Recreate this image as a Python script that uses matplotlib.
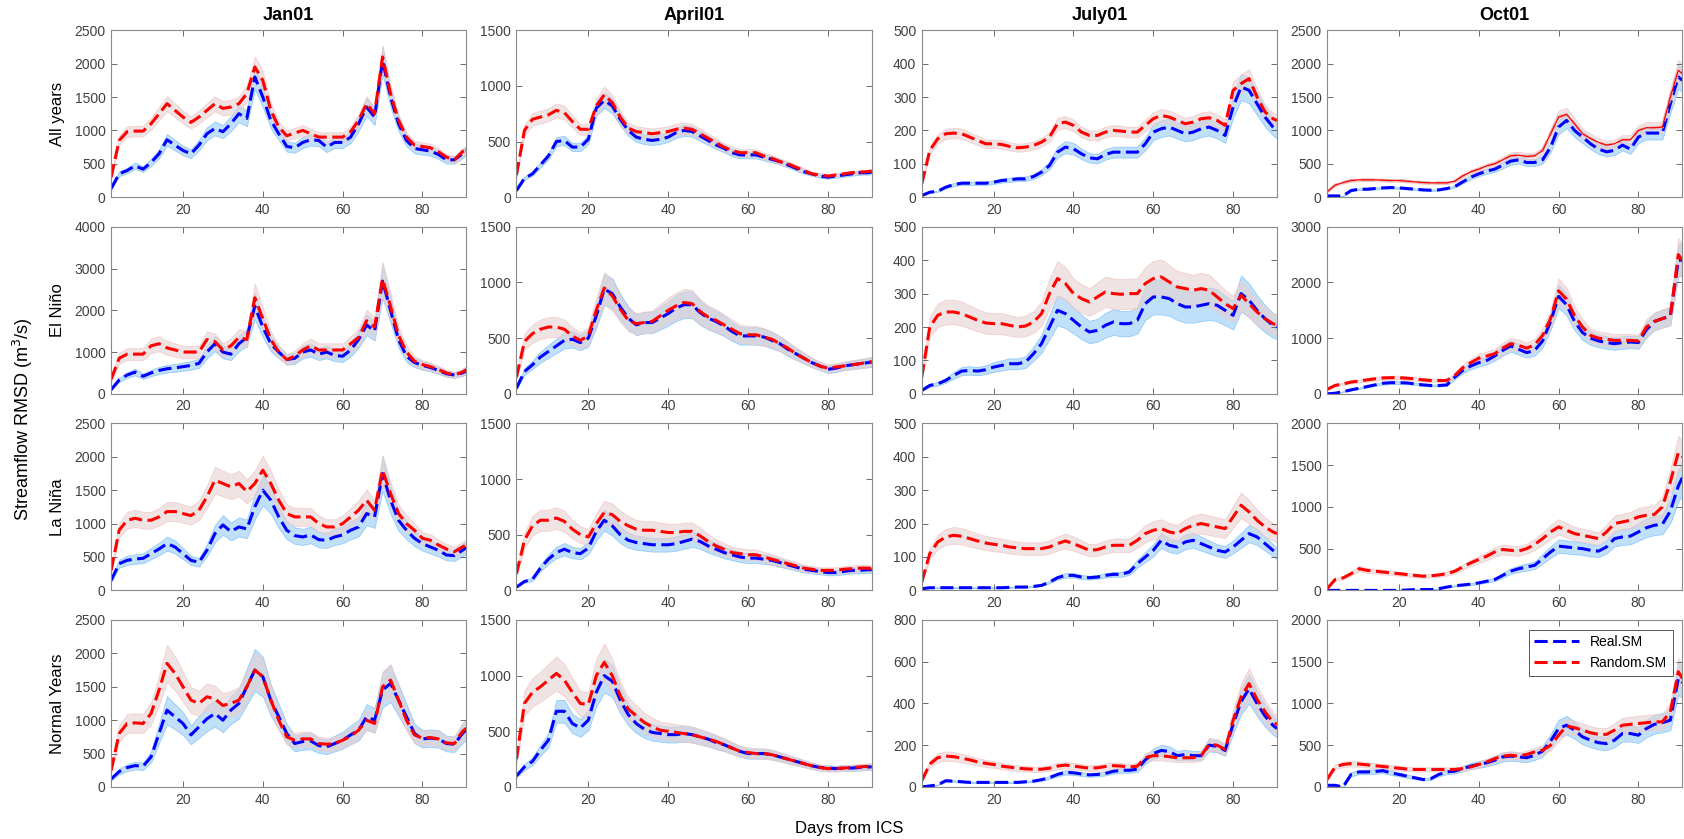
import numpy as np
import matplotlib.pyplot as plt

days = list(range(2, 91, 2)) + [91]

start_dates = ['Jan01', 'April01', 'July01', 'Oct01']
conditions = ['All years', 'El Niño', 'La Niña', 'Normal Years']

# ---- All years ----
all_jan_real = [130, 350, 400, 470, 420, 520, 650, 860, 780, 700,
                650, 780, 950, 1030, 980, 1100, 1250, 1180, 1800, 1500,
                1150, 950, 760, 740, 820, 860, 850, 750, 820, 820,
                900, 1100, 1350, 1200, 2050, 1500, 1100, 850, 730, 710,
                690, 640, 560, 560, 650, 700]
all_jan_rand = [300, 850, 980, 990, 990, 1100, 1250, 1400, 1300, 1200,
                1120, 1200, 1300, 1400, 1330, 1350, 1400, 1550, 1950, 1750,
                1300, 1050, 920, 960, 1000, 950, 900, 900, 900, 900,
                980, 1150, 1400, 1250, 2100, 1550, 1150, 900, 780, 760,
                740, 680, 600, 560, 680, 710]
all_apr_real = [60, 170, 210, 290, 370, 500, 510, 450, 450, 520,
                800, 870, 820, 700, 600, 540, 520, 510, 520, 540,
                580, 600, 590, 550, 510, 470, 440, 400, 380, 380,
                380, 360, 340, 320, 290, 260, 230, 210, 190, 180,
                190, 200, 210, 220, 220, 225]
all_apr_rand = [200, 600, 700, 720, 740, 780, 760, 680, 610, 610,
                820, 920, 850, 720, 620, 590, 580, 570, 580, 590,
                610, 620, 610, 570, 530, 490, 450, 420, 400, 400,
                400, 370, 350, 320, 300, 270, 240, 210, 200, 190,
                200, 210, 220, 225, 230, 235]
all_jul_real = [5, 15, 18, 30, 38, 42, 42, 42, 42, 45,
                50, 52, 55, 55, 62, 75, 95, 135, 150, 145,
                130, 118, 115, 128, 135, 135, 135, 135, 160, 195,
                205, 210, 200, 190, 195, 205, 210, 200, 185, 270,
                330, 320, 280, 240, 210, 200]
all_jul_rand = [40, 140, 175, 190, 192, 190, 180, 170, 160, 160,
                158, 152, 148, 150, 155, 165, 180, 220, 225, 215,
                195, 185, 185, 195, 200, 198, 195, 195, 215, 235,
                245, 240, 230, 220, 225, 235, 238, 230, 215, 320,
                340, 355, 300, 255, 235, 230]
all_oct_real = [20, 20, 20, 100, 120, 120, 130, 140, 145, 140,
                130, 120, 110, 105, 110, 130, 160, 230, 300, 350,
                390, 420, 480, 540, 560, 520, 520, 560, 750, 1050,
                1150, 1000, 900, 800, 720, 680, 700, 780, 720, 900,
                960, 960, 960, 1400, 1800, 1750]
all_oct_rand = [80, 180, 220, 250, 260, 260, 260, 255, 250, 250,
                240, 230, 220, 215, 215, 215, 240, 320, 380, 420,
                470, 500, 560, 620, 630, 610, 620, 700, 950, 1200,
                1240, 1100, 950, 880, 820, 780, 800, 860, 860, 1000,
                1040, 1040, 1050, 1500, 1900, 1850]

# ---- El Nino ----
nino_jan_real = [100, 330, 450, 520, 420, 500, 560, 600, 620, 650,
                 680, 730, 1000, 1200, 1000, 950, 1200, 1350, 2100, 1600,
                 1200, 1000, 820, 850, 1000, 1050, 950, 1000, 920, 900,
                 1050, 1300, 1650, 1500, 2700, 2000, 1300, 900, 750, 680,
                 630, 560, 480, 450, 500, 550]
nino_jan_rand = [350, 850, 950, 950, 950, 1150, 1200, 1100, 1050, 1000,
                 1000, 1000, 1300, 1250, 1050, 1150, 1350, 1300, 2300, 1800,
                 1300, 1000, 820, 900, 1050, 1150, 1050, 1050, 1050, 1050,
                 1200, 1350, 1750, 1600, 2750, 2100, 1400, 1000, 780, 700,
                 650, 580, 500, 450, 520, 580]
nino_apr_real = [50, 200, 260, 330, 380, 430, 480, 490, 460, 500,
                 700, 940, 900, 780, 680, 620, 640, 640, 680, 720,
                 770, 800, 800, 730, 680, 650, 610, 560, 520, 520,
                 520, 510, 480, 450, 400, 360, 320, 280, 250, 220,
                 230, 250, 260, 270, 280, 285]
nino_apr_rand = [150, 470, 540, 580, 600, 600, 580, 520, 480, 520,
                 750, 950, 880, 760, 660, 630, 640, 650, 700, 750,
                 790, 820, 810, 740, 690, 660, 620, 580, 540, 530,
                 530, 510, 490, 450, 410, 360, 320, 280, 250, 230,
                 240, 250, 260, 270, 285, 290]
nino_jul_real = [10, 25, 30, 40, 55, 68, 70, 68, 72, 80,
                 85, 90, 90, 95, 120, 150, 200, 250, 240, 220,
                 200, 185, 190, 205, 215, 210, 210, 220, 270, 290,
                 290, 285, 270, 260, 260, 265, 270, 265, 250, 235,
                 300, 280, 250, 225, 205, 200]
nino_jul_rand = [50, 200, 235, 245, 245, 240, 230, 220, 212, 210,
                 210, 205, 200, 203, 215, 240, 300, 345, 330, 300,
                 285, 275, 290, 305, 300, 298, 300, 300, 330, 345,
                 350, 335, 320, 315, 310, 315, 310, 290, 270, 255,
                 295, 270, 245, 225, 210, 205]
nino_oct_real = [0, 10, 40, 70, 100, 130, 160, 190, 200, 200,
                 195, 180, 160, 150, 150, 160, 300, 420, 500, 560,
                 600, 680, 780, 860, 800, 740, 780, 950, 1300, 1750,
                 1600, 1300, 1100, 1000, 950, 920, 900, 920, 930, 920,
                 1150, 1300, 1350, 1400, 2400, 2400]
nino_oct_rand = [80, 150, 180, 210, 230, 250, 270, 285, 290, 290,
                 280, 270, 250, 240, 240, 240, 330, 470, 560, 640,
                 680, 720, 820, 900, 870, 820, 880, 1050, 1350, 1850,
                 1700, 1400, 1200, 1050, 1000, 980, 960, 960, 960, 950,
                 1200, 1300, 1350, 1400, 2500, 2400]

# ---- La Nina ----
nina_jan_real = [150, 400, 450, 470, 480, 550, 620, 700, 650, 550,
                 450, 420, 600, 850, 980, 880, 950, 920, 1250, 1500,
                 1350, 1100, 900, 820, 800, 830, 760, 750, 800, 830,
                 900, 950, 1150, 1100, 1750, 1350, 1050, 900, 780, 700,
                 650, 600, 530, 520, 600, 640]
nina_jan_rand = [300, 900, 1050, 1080, 1050, 1050, 1100, 1180, 1180, 1150,
                 1120, 1200, 1400, 1650, 1600, 1550, 1600, 1480, 1600, 1800,
                 1600, 1350, 1150, 1100, 1100, 1100, 1000, 950, 950, 1000,
                 1100, 1200, 1350, 1200, 1800, 1450, 1150, 1000, 900, 780,
                 750, 680, 620, 580, 650, 680]
nina_apr_real = [30, 80, 100, 200, 280, 340, 370, 340, 330, 380,
                 530, 630, 580, 500, 450, 430, 420, 410, 410, 410,
                 420, 440, 460, 440, 400, 370, 340, 320, 300, 290,
                 290, 280, 270, 250, 230, 210, 190, 180, 170, 160,
                 160, 170, 180, 180, 185, 185]
nina_apr_rand = [150, 450, 580, 630, 630, 650, 620, 550, 500, 480,
                 600, 700, 680, 620, 580, 550, 540, 540, 530, 520,
                 520, 530, 530, 490, 440, 400, 370, 340, 330, 320,
                 320, 300, 280, 260, 240, 220, 200, 190, 180, 180,
                 180, 190, 195, 200, 200, 195]
nina_jul_real = [5, 8, 8, 8, 8, 8, 8, 8, 8, 8,
                 8, 9, 10, 10, 12, 15, 25, 38, 45, 45,
                 40, 38, 40, 45, 48, 48, 55, 80, 100, 120,
                 150, 135, 130, 145, 150, 140, 130, 120, 115, 130,
                 150, 170, 160, 140, 120, 110]
nina_jul_rand = [25, 110, 145, 160, 165, 162, 155, 148, 142, 138,
                 135, 130, 127, 125, 125, 125, 130, 140, 148, 140,
                 130, 120, 122, 130, 135, 135, 135, 150, 170, 180,
                 185, 175, 170, 185, 195, 200, 195, 190, 185, 220,
                 255, 235, 210, 190, 175, 170]
nina_oct_real = [0, 0, 0, 0, 0, 0, 0, 0, 0, 0,
                 5, 10, 10, 10, 20, 40, 55, 65, 75, 90,
                 110, 130, 180, 230, 260, 280, 300, 380, 460, 530,
                 520, 510, 500, 480, 470, 520, 620, 640, 650, 700,
                 750, 780, 790, 950, 1250, 1350]
nina_oct_rand = [20, 130, 150, 200, 260, 240, 230, 220, 210, 200,
                 190, 180, 170, 175, 185, 200, 230, 280, 330, 370,
                 410, 460, 490, 480, 470, 500, 550, 620, 700, 760,
                 720, 680, 660, 640, 620, 700, 800, 820, 840, 880,
                 900, 910, 1000, 1300, 1650, 1600]

# ---- Normal years ----
norm_jan_real = [120, 230, 290, 320, 310, 450, 800, 1150, 1050, 950,
                 780, 900, 1020, 1100, 1000, 1150, 1250, 1500, 1750, 1650,
                 1300, 1050, 800, 650, 680, 690, 620, 600, 650, 700,
                 780, 850, 1050, 1000, 1450, 1550, 1300, 1050, 800, 720,
                 730, 720, 650, 640, 800, 860]
norm_jan_rand = [250, 800, 950, 960, 950, 1100, 1450, 1850, 1700, 1500,
                 1300, 1250, 1350, 1320, 1220, 1250, 1300, 1500, 1750, 1650,
                 1300, 1000, 750, 700, 720, 720, 650, 640, 650, 700,
                 760, 850, 1000, 950, 1500, 1600, 1300, 1000, 780, 730,
                 740, 720, 660, 650, 830, 880]
norm_apr_real = [100, 180, 230, 330, 420, 680, 680, 570, 530, 600,
                 850, 1000, 950, 780, 650, 570, 520, 490, 480, 470,
                 470, 480, 470, 450, 430, 400, 380, 350, 320, 300,
                 300, 300, 290, 270, 250, 230, 210, 190, 175, 170,
                 165, 170, 170, 175, 180, 180]
norm_apr_rand = [250, 750, 850, 900, 960, 1020, 960, 850, 750, 740,
                 1000, 1120, 1000, 820, 700, 640, 580, 540, 510, 500,
                 490, 480, 470, 450, 430, 410, 380, 350, 320, 310,
                 300, 300, 290, 270, 250, 230, 210, 190, 175, 165,
                 165, 170, 175, 180, 185, 185]
norm_jul_real = [0, 5, 10, 30, 28, 25, 22, 22, 22, 22,
                 22, 22, 22, 25, 28, 35, 45, 60, 70, 68,
                 62, 58, 60, 65, 75, 80, 80, 85, 130, 160,
                 175, 170, 150, 155, 150, 150, 200, 195, 175, 300,
                 410, 470, 400, 340, 295, 280]
norm_jul_rand = [30, 110, 140, 148, 145, 138, 130, 120, 113, 108,
                 100, 95, 90, 87, 85, 85, 90, 100, 105, 100,
                 95, 90, 92, 98, 102, 100, 95, 100, 140, 150,
                 150, 145, 140, 140, 140, 150, 205, 200, 180, 320,
                 430, 495, 420, 360, 310, 300]
norm_oct_real = [20, 20, 0, 150, 180, 180, 185, 195, 170, 150,
                 130, 110, 90, 100, 150, 180, 190, 220, 250, 270,
                 290, 320, 360, 370, 360, 350, 380, 430, 550, 700,
                 740, 680, 600, 560, 530, 520, 560, 640, 640, 620,
                 700, 750, 770, 800, 1300, 1250]
norm_oct_rand = [90, 240, 270, 280, 275, 265, 255, 245, 235, 225,
                 215, 210, 210, 210, 210, 210, 210, 220, 240, 270,
                 300, 340, 370, 380, 370, 390, 420, 440, 500, 620,
                 730, 710, 680, 650, 630, 630, 680, 740, 750, 760,
                 770, 780, 780, 900, 1380, 1300]

real_sm = [[all_jan_real, all_apr_real, all_jul_real, all_oct_real],
           [nino_jan_real, nino_apr_real, nino_jul_real, nino_oct_real],
           [nina_jan_real, nina_apr_real, nina_jul_real, nina_oct_real],
           [norm_jan_real, norm_apr_real, norm_jul_real, norm_oct_real]]
random_sm = [[all_jan_rand, all_apr_rand, all_jul_rand, all_oct_rand],
             [nino_jan_rand, nino_apr_rand, nino_jul_rand, nino_oct_rand],
             [nina_jan_rand, nina_apr_rand, nina_jul_rand, nina_oct_rand],
             [norm_jan_rand, norm_apr_rand, norm_jul_rand, norm_oct_rand]]

# relative spread of the shaded bands
band_real = [[0.10, 0.08, 0.12, 0.10],
             [0.15, 0.15, 0.18, 0.12],
             [0.15, 0.15, 0.15, 0.15],
             [0.18, 0.15, 0.15, 0.15]]
band_rand = [[0.08, 0.08, 0.08, 0.08],
             [0.15, 0.15, 0.15, 0.12],
             [0.12, 0.15, 0.15, 0.12],
             [0.15, 0.15, 0.15, 0.12]]

y_max = [[2500, 1500, 500, 2500],
         [4000, 1500, 500, 3000],
         [2500, 1500, 500, 2000],
         [2500, 1500, 800, 2000]]
y_step = [[500, 500, 100, 500],
          [1000, 500, 100, 1000],
          [500, 500, 100, 500],
          [500, 500, 200, 500]]

plt.rcParams['font.family'] = ['Liberation Sans', 'DejaVu Sans']

fig, axes = plt.subplots(4, 4, figsize=(16.84, 8.39), dpi=100)
fig.subplots_adjust(left=0.066, right=0.999, bottom=0.062, top=0.964,
                    wspace=0.141, hspace=0.177)

blue_face = (0.30, 0.65, 0.94, 0.35)
blue_edge = (0.50, 0.76, 0.97, 0.8)
red_face = (0.90, 0.82, 0.82, 0.6)
red_edge = (0.95, 0.78, 0.78, 0.8)

for i in range(4):
    for j in range(4):
        ax = axes[i, j]
        real = np.array(real_sm[i][j], dtype=float)
        rand = np.array(random_sm[i][j], dtype=float)
        ax.fill_between(days, real * (1 - band_real[i][j]), real * (1 + band_real[i][j]),
                        facecolor=blue_face, edgecolor=blue_edge, linewidth=0.6)
        ax.fill_between(days, rand * (1 - band_rand[i][j]), rand * (1 + band_rand[i][j]),
                        facecolor=red_face, edgecolor=red_edge, linewidth=0.6)
        l1, = ax.plot(days, real, color='blue', lw=2.2, dashes=(4.3, 1.8), label='Real.SM')
        if i == 0 and j == 3:
            ax.plot(days, rand, color=(0.88, 0.72, 0.72), lw=2.2, dashes=(4.3, 1.8))
            ax.plot(days, rand, color='red', lw=0.9)
            l2, = ax.plot([], [], color='red', lw=2.2, dashes=(4.3, 1.8), label='Random.SM')
        else:
            l2, = ax.plot(days, rand, color='red', lw=2.2, dashes=(4.3, 1.8), label='Random.SM')

        ax.set_xlim(2, 91)
        ax.set_xticks([20, 40, 60, 80])
        ax.set_ylim(0, y_max[i][j])
        ax.set_yticks(np.arange(0, y_max[i][j] + 1, y_step[i][j]))
        ax.tick_params(direction='in', top=True, right=True, length=4, width=0.6,
                       color='#555555', labelsize=10, labelcolor='#404040', pad=4)
        for sp in ax.spines.values():
            sp.set_color('#8a8a8a')
            sp.set_linewidth(0.8)

        if i == 0:
            ax.set_title(start_dates[j], fontsize=13, fontweight='bold', pad=7)
        if j == 0:
            ax.set_ylabel(conditions[i], fontsize=12)
            ax.yaxis.set_label_coords(-0.13, 0.5)
        if i == 3 and j == 3:
            leg = ax.legend(handles=[l1, l2], loc='upper right', fontsize=10,
                            fancybox=False, framealpha=1, edgecolor='#555555',
                            handlelength=3.2, borderaxespad=0.7)
            leg.get_frame().set_linewidth(0.7)

fig.text(0.0134, 0.5, 'Streamflow RMSD (m$^3$/s)', rotation=90,
         ha='center', va='center', fontsize=13)
fig.text(0.504, 0.013, 'Days from ICS', ha='center', va='center', fontsize=12)

fig.savefig('out.png', dpi=100)
